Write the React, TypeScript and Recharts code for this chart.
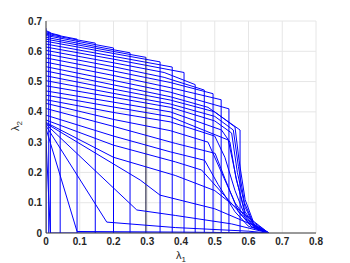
import { LineChart, Line, XAxis, YAxis, CartesianGrid, Label } from 'recharts';

const X_TICKS = [0, 0.1, 0.2, 0.3, 0.4, 0.5, 0.6, 0.7, 0.8];
const Y_TICKS = [0, 0.1, 0.2, 0.3, 0.4, 0.5, 0.6, 0.7];

// vertical mesh lines: lambda1 position and the height they reach
const COL_X = [0, 0.008, 0.013, 0.042, 0.092, 0.146, 0.2, 0.249, 0.296, 0.338, 0.374, 0.409, 0.442, 0.469, 0.495, 0.519, 0.542, 0.575];
const COL_TOP = [0.676, 0.664, 0.662, 0.652, 0.64, 0.627, 0.611, 0.595, 0.58, 0.565, 0.548, 0.53, 0.49, 0.472, 0.46, 0.44, 0.41, 0.34];
const DARK_COL = 0.296;

// mesh rows as (lambda1, lambda2) pairs
const ROW_00 = [[0, 0.668], [0.013, 0.662]];
const ROW_01 = [[0, 0.664], [0.042, 0.652]];
const ROW_02 = [[0, 0.66], [0.092, 0.64]];
const ROW_03 = [[0, 0.656], [0.146, 0.627]];
const ROW_04 = [[0, 0.652], [0.2, 0.611]];
const ROW_05 = [[0, 0.646], [0.249, 0.595]];
const ROW_06 = [[0, 0.64], [0.296, 0.58]];
const ROW_07 = [[0, 0.633], [0.338, 0.565]];
const ROW_08 = [[0, 0.624], [0.374, 0.548]];
const ROW_09 = [[0, 0.614], [0.2, 0.574], [0.409, 0.53]];
const ROW_10 = [[0, 0.603], [0.2, 0.562], [0.35, 0.53], [0.442, 0.49]];
const ROW_11 = [[0, 0.591], [0.2, 0.549], [0.35, 0.514], [0.469, 0.472]];
const ROW_12 = [[0, 0.578], [0.2, 0.535], [0.368, 0.497], [0.495, 0.46]];
const ROW_13 = [[0, 0.564], [0.2, 0.52], [0.368, 0.48], [0.519, 0.44]];
const ROW_14 = [[0, 0.549], [0.2, 0.504], [0.368, 0.465], [0.542, 0.41]];
const ROW_15 = [[0, 0.535], [0.2, 0.489], [0.368, 0.45], [0.48, 0.415], [0.575, 0.34]];
const ROW_16 = [[0, 0.519], [0.2, 0.475], [0.368, 0.439], [0.5, 0.4], [0.56, 0.35], [0.572, 0.24], [0.59, 0.11], [0.615, 0.035], [0.66, 0]];
const ROW_17 = [[0, 0.503], [0.2, 0.461], [0.368, 0.426], [0.5, 0.385], [0.555, 0.34], [0.57, 0.22], [0.588, 0.1], [0.615, 0.03], [0.66, 0]];
const ROW_18 = [[0, 0.486], [0.2, 0.448], [0.368, 0.415], [0.5, 0.37], [0.55, 0.33], [0.567, 0.2], [0.59, 0.085], [0.615, 0.028], [0.66, 0]];
const ROW_19 = [[0, 0.469], [0.2, 0.432], [0.368, 0.4], [0.52, 0.34], [0.545, 0.3], [0.563, 0.18], [0.59, 0.07], [0.62, 0.02], [0.66, 0]];
const ROW_20 = [[0, 0.455], [0.2, 0.416], [0.368, 0.384], [0.54, 0.307], [0.565, 0.175], [0.59, 0.06], [0.62, 0.018], [0.66, 0]];
const ROW_21 = [[0, 0.44], [0.2, 0.398], [0.368, 0.367], [0.5, 0.32], [0.53, 0.25], [0.56, 0.14], [0.59, 0.055], [0.62, 0.015], [0.66, 0]];
const ROW_22 = [[0, 0.428], [0.2, 0.375], [0.368, 0.338], [0.48, 0.3], [0.52, 0.2], [0.56, 0.1], [0.6, 0.035], [0.66, 0]];
const ROW_23 = [[0, 0.411], [0.2, 0.352], [0.383, 0.296], [0.501, 0.263], [0.53, 0.18], [0.57, 0.07], [0.61, 0.02], [0.66, 0]];
const ROW_24 = [[0, 0.389], [0.2, 0.32], [0.368, 0.268], [0.47, 0.24], [0.51, 0.16], [0.56, 0.07], [0.6, 0.022], [0.66, 0]];
const ROW_25 = [[0, 0.373], [0.2, 0.29], [0.383, 0.235], [0.461, 0.208], [0.575, 0.066], [0.61, 0.02], [0.66, 0]];
const ROW_26 = [[0, 0.365], [0.2, 0.25], [0.383, 0.19], [0.5, 0.14], [0.61, 0.043], [0.66, 0]];
const ROW_27 = [[0, 0.362], [0.279, 0.175], [0.338, 0.125], [0.5, 0.08], [0.605, 0.03], [0.66, 0]];
const ROW_28 = [[0, 0.359], [0.269, 0.076], [0.383, 0.058], [0.55, 0.03], [0.66, 0]];
const ROW_29 = [[0, 0.354], [0.18, 0.036], [0.383, 0.018], [0.6, 0.006], [0.66, 0]];
const ROW_30 = [[0, 0.345], [0.092, 0.005], [0.4, 0.003], [0.66, 0]];
const ROW_31 = [[0, 0.307], [0.013, 0], [0.66, 0]];

const ROWS = [
  ROW_00, ROW_01, ROW_02, ROW_03, ROW_04, ROW_05, ROW_06, ROW_07,
  ROW_08, ROW_09, ROW_10, ROW_11, ROW_12, ROW_13, ROW_14, ROW_15,
  ROW_16, ROW_17, ROW_18, ROW_19, ROW_20, ROW_21, ROW_22, ROW_23,
  ROW_24, ROW_25, ROW_26, ROW_27, ROW_28, ROW_29, ROW_30, ROW_31,
];

const rowSeries = ROWS.map((row) => row.map(([x, y]) => ({ x, y })));
const colSeries = COL_X.map((x, i) => [
  { x, y: 0 },
  { x, y: COL_TOP[i] },
]);

const tickStyle = {
  fontFamily: "'Liberation Sans', Arial, sans-serif",
  fontSize: 10,
  fontWeight: 700,
  fill: '#262626',
};

export default function App() {
  return (
    <div style={{ position: 'absolute', left: 0, top: 0, background: '#fff' }}>
      <LineChart width={350} height={263} margin={{ top: 21, right: 34, bottom: 0, left: 0 }}>
        <CartesianGrid stroke="#e6e6e6" />
        <XAxis
          type="number"
          dataKey="x"
          domain={[0, 0.8]}
          ticks={X_TICKS}
          allowDataOverflow
          height={30}
          tickLine={false}
          tickSize={3}
          tickMargin={2}
          axisLine={{ stroke: '#404040' }}
          tick={tickStyle}
        >
          <Label
            position="insideBottom"
            offset={3}
            content={() => (
              <text x={181} y={259} textAnchor="middle" fontFamily="'Liberation Sans', Arial, sans-serif" fontSize={11} fill="#262626">
                λ<tspan dy={3} fontSize={8}>1</tspan>
              </text>
            )}
          />
        </XAxis>
        <XAxis
          xAxisId="top"
          orientation="top"
          type="number"
          domain={[0, 0.8]}
          ticks={X_TICKS}
          mirror
          tick={false}
          axisLine={false}
          tickSize={3}
          stroke="#999"
        />
        <YAxis
          type="number"
          domain={[0, 0.7]}
          ticks={Y_TICKS}
          allowDataOverflow
          width={46}
          tickLine={false}
          tickSize={2}
          tickMargin={2}
          axisLine={{ stroke: '#404040' }}
          tick={tickStyle}
        >
          <Label
            content={() => (
              <text
                x={19}
                y={126}
                textAnchor="middle"
                transform="rotate(-90 19 126)"
                fontFamily="'Liberation Sans', Arial, sans-serif"
                fontSize={11}
                fill="#262626"
              >
                λ<tspan dy={3} fontSize={8}>2</tspan>
              </text>
            )}
          />
        </YAxis>
        <YAxis
          yAxisId="right"
          orientation="right"
          type="number"
          domain={[0, 0.7]}
          ticks={Y_TICKS}
          mirror
          tick={false}
          axisLine={false}
          tickSize={3}
          stroke="#999"
        />
        {colSeries.map((pts, i) => (
          <Line
            key={`col-${i}`}
            data={pts}
            dataKey="y"
            type="linear"
            stroke={COL_X[i] === DARK_COL ? '#0a0a30' : '#0000ff'}
            strokeWidth={1}
            dot={false}
            activeDot={false}
            legendType="none"
            isAnimationActive={false}
          />
        ))}
        {rowSeries.map((pts, i) => (
          <Line
            key={`row-${i}`}
            data={pts}
            dataKey="y"
            type="linear"
            stroke="#0000ff"
            strokeWidth={1}
            dot={false}
            activeDot={false}
            legendType="none"
            isAnimationActive={false}
          />
        ))}
      </LineChart>
    </div>
  );
}
